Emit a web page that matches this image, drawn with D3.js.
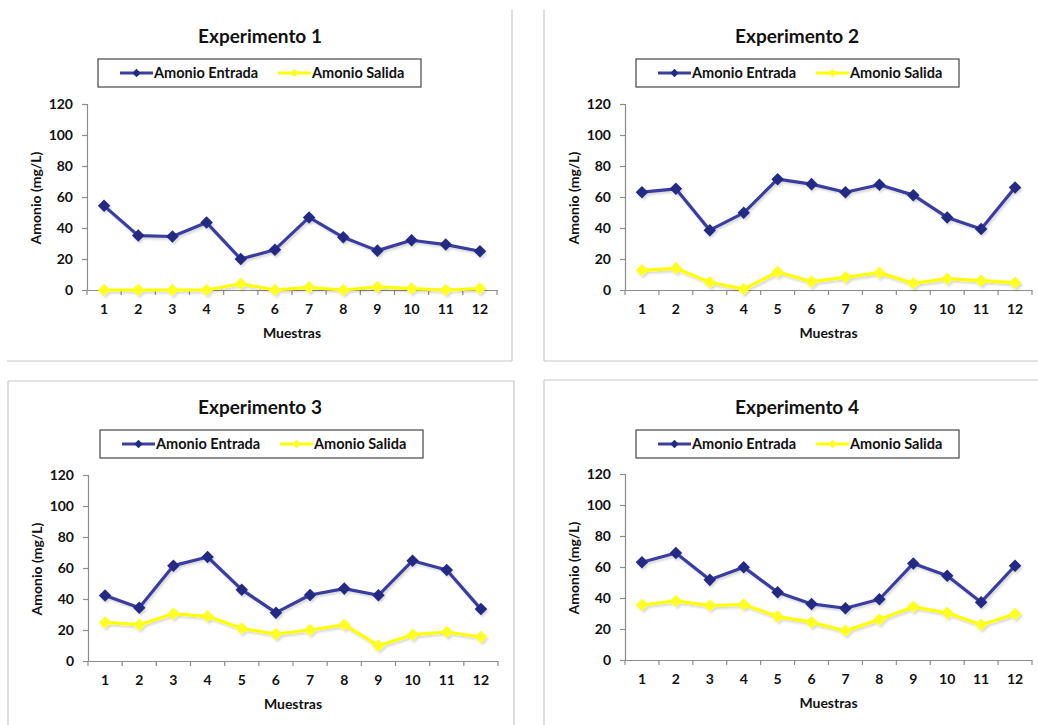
<!DOCTYPE html>
<html>
<head>
<meta charset="utf-8">
<script src="https://cdn.jsdelivr.net/npm/d3@7"></script>
<style>
  html, body { margin: 0; padding: 0; background: #fff; }
  svg { display: block; }
  text { font-family: Lato, "Open Sans", sans-serif; font-weight: bold; fill: #111; }
</style>
</head>
<body>
<svg id="chart" width="1038" height="725"></svg>
<script>
// Sample numbers on the category axis
const samples = ["1", "2", "3", "4", "5", "6", "7", "8", "9", "10", "11", "12"];
const yTicks = [0, 20, 40, 60, 80, 100, 120];
const seriesNames = ["Amonio Entrada", "Amonio Salida"];
const titles = ["Experimento 1", "Experimento 2", "Experimento 3", "Experimento 4"];

// Ammonium (mg/L) at the inlet and outlet, one pair of arrays per experiment
const entrada1 = [54.3, 35.1, 34.5, 43.5, 20.0, 26.0, 46.8, 34.0, 25.4, 32.1, 29.3, 25.0];
const salida1  = [0.0, 0.0, 0.0, 0.0, 4.0, 0.0, 1.7, 0.0, 2.0, 0.9, 0.0, 0.9];
const entrada2 = [63.1, 65.3, 38.6, 49.8, 71.5, 68.3, 63.1, 67.9, 61.2, 46.8, 39.3, 66.2];
const salida2  = [12.7, 14.0, 5.0, 0.6, 11.6, 5.4, 8.2, 11.2, 4.3, 7.3, 6.0, 4.7];
const entrada3 = [42.2, 34.4, 61.5, 67.1, 46.0, 31.2, 42.6, 46.7, 42.4, 64.7, 58.7, 33.5];
const salida3  = [24.9, 23.4, 30.5, 28.8, 20.9, 17.4, 20.0, 23.4, 9.9, 17.0, 18.7, 15.5];
const entrada4 = [63.1, 69.0, 51.7, 59.9, 43.7, 36.2, 33.4, 39.2, 62.3, 54.3, 37.3, 60.8];
const salida4  = [35.5, 38.1, 35.1, 35.8, 28.0, 24.4, 18.8, 26.1, 34.3, 30.4, 22.8, 29.7];

const entradas = [entrada1, entrada2, entrada3, entrada4];
const salidas = [salida1, salida2, salida3, salida4];

const BLUE_LINE = "#3a3e9e";
const BLUE_MARK = "#232a84";
const YELLOW_LINE = "#ffff00";
const YELLOW_MARK = "#ffff22";
const FRAME = "#c6c6c6";

// Layout of each panel: plot area, title, legend, and the visible frame edges
const panels = [
  { px0: 87, px1: 497, py0: 290, py1: 104, tx: 260, ty: 43, lx: 98, ly: 59,
    frame: [[7, 361, 512, 361], [512, 10, 512, 361]] },
  { px0: 625, px1: 1032, py0: 290, py1: 104, tx: 797, ty: 43, lx: 636, ly: 59,
    frame: [[544, 10, 544, 361], [544, 361, 1038, 361]] },
  { px0: 88, px1: 498, py0: 661, py1: 475, tx: 260, ty: 414, lx: 100, ly: 430,
    frame: [[8, 381, 514, 381], [8, 381, 8, 725], [514, 381, 514, 725]] },
  { px0: 625, px1: 1032, py0: 660, py1: 474, tx: 797, ty: 414, lx: 636, ly: 430,
    frame: [[544, 380, 1038, 380], [544, 380, 544, 725]] }
];

const svg = d3.select("#chart");

const defs = svg.append("defs");
const sh = defs.append("filter").attr("id", "shadow")
  .attr("x", "-10%").attr("y", "-10%").attr("width", "120%").attr("height", "130%");
sh.append("feDropShadow").attr("dx", 1.5).attr("dy", 2).attr("stdDeviation", 1.3)
  .attr("flood-color", "#000").attr("flood-opacity", 0.16);

const diamond = d3.symbol().type(d3.symbolDiamond2).size(100);
const legendDiamond = d3.symbol().type(d3.symbolDiamond2).size(45);

const AXIS_FONT = "14px";

panels.forEach((p, i) => {
  const g = svg.append("g");

  // frame edges
  g.selectAll("line.frame").data(p.frame).join("line")
    .attr("x1", d => d[0]).attr("y1", d => d[1]).attr("x2", d => d[2]).attr("y2", d => d[3])
    .attr("stroke", FRAME).attr("stroke-width", 1.2);

  const x = d3.scaleBand().domain(samples).range([p.px0, p.px1]);
  const y = d3.scaleLinear().domain([0, 120]).range([p.py0, p.py1]);

  // title
  g.append("text").attr("x", p.tx).attr("y", p.ty).attr("text-anchor", "middle")
    .style("font-size", "19px").text(titles[i]);

  // legend
  const lg = g.append("g").attr("transform", `translate(${p.lx},${p.ly})`);
  lg.append("rect").attr("width", 323).attr("height", 28)
    .attr("fill", "#fff").attr("stroke", "#444").attr("stroke-width", 1.2);
  const legendItems = [
    { name: seriesNames[0], line: BLUE_LINE, mark: BLUE_MARK, x0: 22 },
    { name: seriesNames[1], line: YELLOW_LINE, mark: YELLOW_MARK, x0: 180 }
  ];
  legendItems.forEach(it => {
    lg.append("line").attr("x1", it.x0).attr("x2", it.x0 + 33).attr("y1", 14).attr("y2", 14)
      .attr("stroke", it.line).attr("stroke-width", 3);
    lg.append("path").attr("d", legendDiamond)
      .attr("transform", `translate(${it.x0 + 16.5},14)`).attr("fill", it.mark);
    lg.append("text").attr("x", it.x0 + 34).attr("y", 19)
      .style("font-size", "14.5px").text(it.name);
  });

  // y axis
  const yAxis = g.append("g").attr("transform", `translate(${p.px0},0)`)
    .call(d3.axisLeft(y).tickValues(yTicks).tickSize(5).tickPadding(9));
  yAxis.select(".domain").attr("stroke", "#8c8c8c").attr("stroke-width", 1.2);
  yAxis.selectAll(".tick line").attr("stroke", "#8c8c8c").attr("stroke-width", 1.2);
  yAxis.selectAll(".tick text").style("font-size", AXIS_FONT)
    .style("font-family", "Lato, sans-serif").style("font-weight", "bold").attr("fill", "#111");

  // x axis: ticks between categories
  const xAxis = g.append("g").attr("transform", `translate(0,${p.py0})`)
    .call(d3.axisBottom(x).tickSize(0).tickPadding(14));
  xAxis.select(".domain").attr("stroke", "#8c8c8c").attr("stroke-width", 1.2);
  xAxis.selectAll(".tick text").style("font-size", AXIS_FONT)
    .style("font-family", "Lato, sans-serif").style("font-weight", "bold").attr("fill", "#111");
  const bounds = samples.map(s => x(s)).concat([p.px1]);
  xAxis.selectAll("line.sep").data(bounds).join("line").attr("class", "sep")
    .attr("x1", d => d).attr("x2", d => d).attr("y1", 0).attr("y2", 5)
    .attr("stroke", "#8c8c8c").attr("stroke-width", 1.2);

  // axis titles
  g.append("text").attr("transform", `translate(${p.px0 - 46},${(p.py0 + p.py1) / 2 + 1}) rotate(-90)`)
    .attr("text-anchor", "middle").style("font-size", AXIS_FONT).text("Amonio (mg/L)");
  g.append("text").attr("x", (p.px0 + p.px1) / 2).attr("y", p.py0 + 48)
    .attr("text-anchor", "middle").style("font-size", AXIS_FONT).text("Muestras");

  // series
  const cx = s => x(s) + x.bandwidth() / 2;
  const line = d3.line().x((d, k) => cx(samples[k])).y(d => y(d));
  const series = [
    { values: entradas[i], line: BLUE_LINE, mark: BLUE_MARK },
    { values: salidas[i], line: YELLOW_LINE, mark: YELLOW_MARK }
  ];
  series.slice().reverse().forEach(s => {
    const sg = g.append("g").attr("filter", "url(#shadow)");
    sg.append("path").datum(s.values).attr("d", line)
      .attr("fill", "none").attr("stroke", s.line).attr("stroke-width", 3.2)
      .attr("stroke-linejoin", "round");
    sg.selectAll("path.pt").data(s.values).join("path").attr("class", "pt")
      .attr("d", diamond)
      .attr("transform", (d, k) => `translate(${cx(samples[k])},${y(d)})`)
      .attr("fill", s.mark);
  });
});
</script>
</body>
</html>
